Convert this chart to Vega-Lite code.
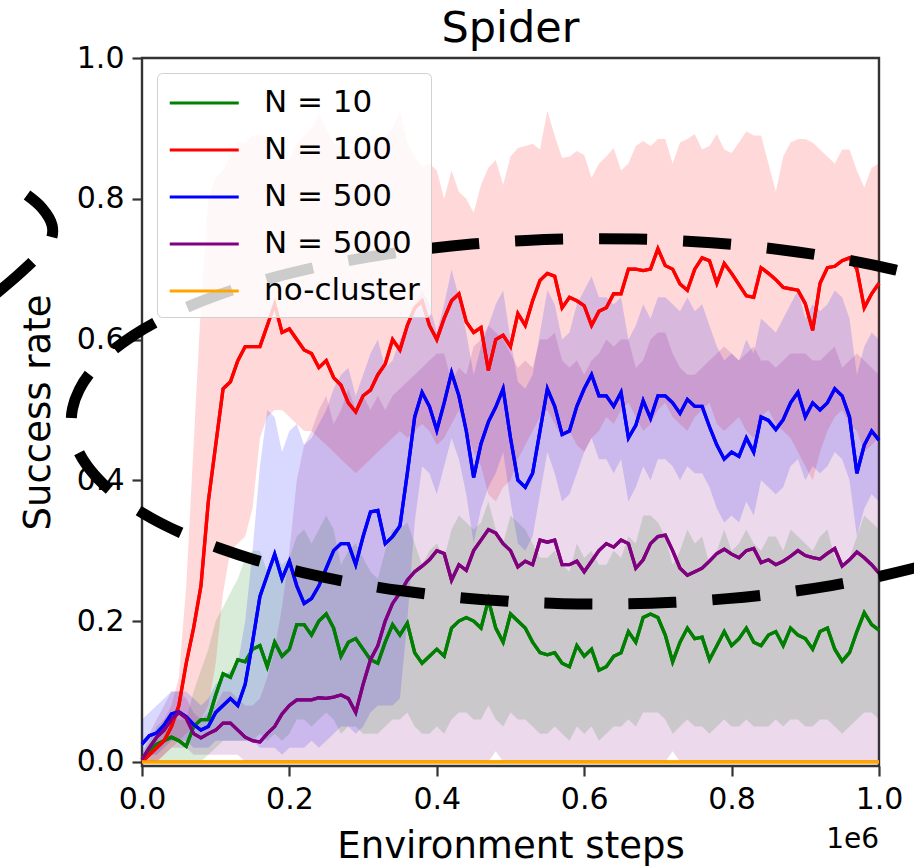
{
"$schema": "https://vega.github.io/schema/vega-lite/v6.json",
"width": 737, "height": 708,
"autosize": {"type": "none"},
"padding": {"left": 142, "top": 58, "right": 35, "bottom": 102},
"background": "white",
"title": {"text": "Spider", "fontSize": 43, "font": "DejaVu Sans", "fontWeight": "normal", "color": "black", "anchor": "middle", "frame": "group", "offset": -42, "baseline": "alphabetic"},
"datasets": {
"runs": [
{"x":0,"s":"g","m":0.005,"l":0,"h":0.01},{"x":0.01,"s":"g","m":0.015,"l":0,"h":0.03},{"x":0.02,"s":"g","m":0.025,"l":0,"h":0.05},{"x":0.03,"s":"g","m":0.03,"l":0,"h":0.06},{"x":0.04,"s":"g","m":0.035,"l":0,"h":0.07},{"x":0.05,"s":"g","m":0.03,"l":0,"h":0.06},{"x":0.06,"s":"g","m":0.022,"l":0,"h":0.06},{"x":0.07,"s":"g","m":0.05,"l":0,"h":0.1},{"x":0.08,"s":"g","m":0.06,"l":0,"h":0.13},{"x":0.09,"s":"g","m":0.06,"l":0.01,"h":0.16},
{"x":0.1,"s":"g","m":0.095,"l":0.02,"h":0.2},{"x":0.11,"s":"g","m":0.125,"l":0.03,"h":0.22},{"x":0.12,"s":"g","m":0.12,"l":0.03,"h":0.24},{"x":0.13,"s":"g","m":0.145,"l":0.03,"h":0.26},{"x":0.14,"s":"g","m":0.142,"l":0.03,"h":0.29},{"x":0.15,"s":"g","m":0.16,"l":0.03,"h":0.3},{"x":0.16,"s":"g","m":0.165,"l":0.04,"h":0.3},{"x":0.17,"s":"g","m":0.135,"l":0.03,"h":0.27},{"x":0.18,"s":"g","m":0.17,"l":0.04,"h":0.3},{"x":0.19,"s":"g","m":0.15,"l":0.03,"h":0.28},
{"x":0.2,"s":"g","m":0.16,"l":0.04,"h":0.29},{"x":0.21,"s":"g","m":0.195,"l":0.06,"h":0.32},{"x":0.22,"s":"g","m":0.195,"l":0.06,"h":0.33},{"x":0.23,"s":"g","m":0.18,"l":0.05,"h":0.31},{"x":0.24,"s":"g","m":0.2,"l":0.06,"h":0.33},{"x":0.25,"s":"g","m":0.21,"l":0.07,"h":0.35},{"x":0.26,"s":"g","m":0.19,"l":0.06,"h":0.33},{"x":0.27,"s":"g","m":0.15,"l":0.04,"h":0.28},{"x":0.28,"s":"g","m":0.17,"l":0.05,"h":0.3},{"x":0.29,"s":"g","m":0.175,"l":0.05,"h":0.31},
{"x":0.3,"s":"g","m":0.16,"l":0.04,"h":0.29},{"x":0.31,"s":"g","m":0.145,"l":0.04,"h":0.27},{"x":0.32,"s":"g","m":0.14,"l":0.04,"h":0.26},{"x":0.33,"s":"g","m":0.17,"l":0.05,"h":0.3},{"x":0.34,"s":"g","m":0.195,"l":0.06,"h":0.33},{"x":0.35,"s":"g","m":0.18,"l":0.06,"h":0.33},{"x":0.36,"s":"g","m":0.197,"l":0.07,"h":0.34},{"x":0.37,"s":"g","m":0.155,"l":0.05,"h":0.31},{"x":0.38,"s":"g","m":0.14,"l":0.04,"h":0.28},{"x":0.39,"s":"g","m":0.15,"l":0.04,"h":0.3},
{"x":0.4,"s":"g","m":0.16,"l":0.05,"h":0.31},{"x":0.41,"s":"g","m":0.15,"l":0.04,"h":0.29},{"x":0.42,"s":"g","m":0.19,"l":0.06,"h":0.33},{"x":0.43,"s":"g","m":0.2,"l":0.07,"h":0.35},{"x":0.44,"s":"g","m":0.205,"l":0.07,"h":0.34},{"x":0.45,"s":"g","m":0.2,"l":0.06,"h":0.33},{"x":0.46,"s":"g","m":0.19,"l":0.06,"h":0.34},{"x":0.47,"s":"g","m":0.23,"l":0.08,"h":0.37},{"x":0.48,"s":"g","m":0.19,"l":0.06,"h":0.33},{"x":0.49,"s":"g","m":0.17,"l":0.05,"h":0.31},
{"x":0.5,"s":"g","m":0.21,"l":0.07,"h":0.35},{"x":0.51,"s":"g","m":0.2,"l":0.06,"h":0.34},{"x":0.52,"s":"g","m":0.19,"l":0.06,"h":0.33},{"x":0.53,"s":"g","m":0.17,"l":0.05,"h":0.31},{"x":0.54,"s":"g","m":0.155,"l":0.04,"h":0.29},{"x":0.55,"s":"g","m":0.152,"l":0.04,"h":0.29},{"x":0.56,"s":"g","m":0.155,"l":0.05,"h":0.3},{"x":0.57,"s":"g","m":0.14,"l":0.04,"h":0.28},{"x":0.58,"s":"g","m":0.135,"l":0.03,"h":0.27},{"x":0.59,"s":"g","m":0.165,"l":0.05,"h":0.31},
{"x":0.6,"s":"g","m":0.15,"l":0.04,"h":0.29},{"x":0.61,"s":"g","m":0.16,"l":0.05,"h":0.3},{"x":0.62,"s":"g","m":0.13,"l":0.03,"h":0.28},{"x":0.63,"s":"g","m":0.135,"l":0.04,"h":0.28},{"x":0.64,"s":"g","m":0.15,"l":0.05,"h":0.3},{"x":0.65,"s":"g","m":0.155,"l":0.05,"h":0.29},{"x":0.66,"s":"g","m":0.185,"l":0.06,"h":0.32},{"x":0.67,"s":"g","m":0.17,"l":0.05,"h":0.31},{"x":0.68,"s":"g","m":0.205,"l":0.07,"h":0.35},{"x":0.69,"s":"g","m":0.21,"l":0.07,"h":0.35},
{"x":0.7,"s":"g","m":0.205,"l":0.07,"h":0.34},{"x":0.71,"s":"g","m":0.18,"l":0.06,"h":0.32},{"x":0.72,"s":"g","m":0.142,"l":0.04,"h":0.28},{"x":0.73,"s":"g","m":0.17,"l":0.05,"h":0.3},{"x":0.74,"s":"g","m":0.19,"l":0.06,"h":0.33},{"x":0.75,"s":"g","m":0.175,"l":0.05,"h":0.31},{"x":0.76,"s":"g","m":0.177,"l":0.05,"h":0.32},{"x":0.77,"s":"g","m":0.145,"l":0.04,"h":0.28},{"x":0.78,"s":"g","m":0.165,"l":0.05,"h":0.3},{"x":0.79,"s":"g","m":0.185,"l":0.06,"h":0.33},
{"x":0.8,"s":"g","m":0.165,"l":0.05,"h":0.3},{"x":0.81,"s":"g","m":0.175,"l":0.05,"h":0.31},{"x":0.82,"s":"g","m":0.19,"l":0.06,"h":0.33},{"x":0.83,"s":"g","m":0.17,"l":0.05,"h":0.31},{"x":0.84,"s":"g","m":0.165,"l":0.05,"h":0.3},{"x":0.85,"s":"g","m":0.18,"l":0.05,"h":0.32},{"x":0.86,"s":"g","m":0.185,"l":0.06,"h":0.32},{"x":0.87,"s":"g","m":0.165,"l":0.05,"h":0.3},{"x":0.88,"s":"g","m":0.19,"l":0.06,"h":0.33},{"x":0.89,"s":"g","m":0.18,"l":0.06,"h":0.32},
{"x":0.9,"s":"g","m":0.175,"l":0.05,"h":0.31},{"x":0.91,"s":"g","m":0.16,"l":0.05,"h":0.3},{"x":0.92,"s":"g","m":0.185,"l":0.06,"h":0.32},{"x":0.93,"s":"g","m":0.19,"l":0.06,"h":0.33},{"x":0.94,"s":"g","m":0.16,"l":0.05,"h":0.29},{"x":0.95,"s":"g","m":0.143,"l":0.04,"h":0.28},{"x":0.96,"s":"g","m":0.155,"l":0.05,"h":0.29},{"x":0.97,"s":"g","m":0.185,"l":0.06,"h":0.32},{"x":0.98,"s":"g","m":0.212,"l":0.07,"h":0.35},{"x":0.99,"s":"g","m":0.195,"l":0.07,"h":0.34},{"x":1,"s":"g","m":0.187,"l":0.06,"h":0.33},

{"x":0,"s":"r","m":0,"l":0,"h":0},{"x":0.01,"s":"r","m":0.01,"l":0,"h":0.02},{"x":0.02,"s":"r","m":0.02,"l":0,"h":0.04},{"x":0.03,"s":"r","m":0.03,"l":0.01,"h":0.06},{"x":0.04,"s":"r","m":0.05,"l":0.02,"h":0.08},{"x":0.05,"s":"r","m":0.08,"l":0.03,"h":0.12},{"x":0.06,"s":"r","m":0.14,"l":0.04,"h":0.25},{"x":0.07,"s":"r","m":0.19,"l":0.05,"h":0.45},{"x":0.08,"s":"r","m":0.25,"l":0.06,"h":0.65},{"x":0.09,"s":"r","m":0.37,"l":0.08,"h":0.8},
{"x":0.1,"s":"r","m":0.45,"l":0.14,"h":0.83},{"x":0.11,"s":"r","m":0.53,"l":0.24,"h":0.84},{"x":0.12,"s":"r","m":0.54,"l":0.3,"h":0.86},{"x":0.13,"s":"r","m":0.57,"l":0.31,"h":0.88},{"x":0.14,"s":"r","m":0.59,"l":0.32,"h":0.88},{"x":0.15,"s":"r","m":0.59,"l":0.36,"h":0.89},{"x":0.16,"s":"r","m":0.59,"l":0.46,"h":0.89},{"x":0.17,"s":"r","m":0.62,"l":0.49,"h":0.89},{"x":0.18,"s":"r","m":0.65,"l":0.5,"h":0.86},{"x":0.19,"s":"r","m":0.61,"l":0.5,"h":0.855},
{"x":0.2,"s":"r","m":0.615,"l":0.49,"h":0.855},{"x":0.21,"s":"r","m":0.6,"l":0.48,"h":0.88},{"x":0.22,"s":"r","m":0.585,"l":0.47,"h":0.89},{"x":0.23,"s":"r","m":0.58,"l":0.47,"h":0.9},{"x":0.24,"s":"r","m":0.56,"l":0.46,"h":0.92},{"x":0.25,"s":"r","m":0.57,"l":0.45,"h":0.9},{"x":0.26,"s":"r","m":0.546,"l":0.44,"h":0.88},{"x":0.27,"s":"r","m":0.535,"l":0.43,"h":0.875},{"x":0.28,"s":"r","m":0.51,"l":0.42,"h":0.868},{"x":0.29,"s":"r","m":0.497,"l":0.41,"h":0.87},
{"x":0.3,"s":"r","m":0.52,"l":0.42,"h":0.865},{"x":0.31,"s":"r","m":0.528,"l":0.43,"h":0.87},{"x":0.32,"s":"r","m":0.55,"l":0.44,"h":0.885},{"x":0.33,"s":"r","m":0.565,"l":0.45,"h":0.89},{"x":0.34,"s":"r","m":0.6,"l":0.46,"h":0.9},{"x":0.35,"s":"r","m":0.585,"l":0.47,"h":0.925},{"x":0.36,"s":"r","m":0.62,"l":0.46,"h":0.88},{"x":0.37,"s":"r","m":0.645,"l":0.47,"h":0.86},{"x":0.38,"s":"r","m":0.655,"l":0.48,"h":0.845},{"x":0.39,"s":"r","m":0.62,"l":0.47,"h":0.85},
{"x":0.4,"s":"r","m":0.6,"l":0.45,"h":0.84},{"x":0.41,"s":"r","m":0.63,"l":0.46,"h":0.8},{"x":0.42,"s":"r","m":0.655,"l":0.48,"h":0.84},{"x":0.43,"s":"r","m":0.665,"l":0.5,"h":0.81},{"x":0.44,"s":"r","m":0.625,"l":0.47,"h":0.8},{"x":0.45,"s":"r","m":0.61,"l":0.44,"h":0.78},{"x":0.46,"s":"r","m":0.617,"l":0.42,"h":0.82},{"x":0.47,"s":"r","m":0.556,"l":0.38,"h":0.844},{"x":0.48,"s":"r","m":0.6,"l":0.37,"h":0.855},{"x":0.49,"s":"r","m":0.606,"l":0.39,"h":0.82},
{"x":0.5,"s":"r","m":0.59,"l":0.4,"h":0.86},{"x":0.51,"s":"r","m":0.637,"l":0.43,"h":0.872},{"x":0.52,"s":"r","m":0.62,"l":0.45,"h":0.875},{"x":0.53,"s":"r","m":0.655,"l":0.47,"h":0.878},{"x":0.54,"s":"r","m":0.684,"l":0.49,"h":0.87},{"x":0.55,"s":"r","m":0.694,"l":0.5,"h":0.925},{"x":0.56,"s":"r","m":0.69,"l":0.48,"h":0.89},{"x":0.57,"s":"r","m":0.645,"l":0.46,"h":0.858},{"x":0.58,"s":"r","m":0.66,"l":0.47,"h":0.86},{"x":0.59,"s":"r","m":0.655,"l":0.45,"h":0.868},
{"x":0.6,"s":"r","m":0.648,"l":0.44,"h":0.862},{"x":0.61,"s":"r","m":0.62,"l":0.46,"h":0.83},{"x":0.62,"s":"r","m":0.64,"l":0.47,"h":0.85},{"x":0.63,"s":"r","m":0.645,"l":0.49,"h":0.86},{"x":0.64,"s":"r","m":0.665,"l":0.48,"h":0.872},{"x":0.65,"s":"r","m":0.665,"l":0.5,"h":0.84},{"x":0.66,"s":"r","m":0.7,"l":0.51,"h":0.85},{"x":0.67,"s":"r","m":0.7,"l":0.49,"h":0.875},{"x":0.68,"s":"r","m":0.698,"l":0.47,"h":0.882},{"x":0.69,"s":"r","m":0.7,"l":0.48,"h":0.875},
{"x":0.7,"s":"r","m":0.729,"l":0.5,"h":0.885},{"x":0.71,"s":"r","m":0.705,"l":0.51,"h":0.885},{"x":0.72,"s":"r","m":0.7,"l":0.49,"h":0.85},{"x":0.73,"s":"r","m":0.679,"l":0.48,"h":0.88},{"x":0.74,"s":"r","m":0.67,"l":0.47,"h":0.885},{"x":0.75,"s":"r","m":0.7,"l":0.49,"h":0.892},{"x":0.76,"s":"r","m":0.716,"l":0.5,"h":0.87},{"x":0.77,"s":"r","m":0.712,"l":0.51,"h":0.875},{"x":0.78,"s":"r","m":0.68,"l":0.48,"h":0.892},{"x":0.79,"s":"r","m":0.708,"l":0.47,"h":0.87},
{"x":0.8,"s":"r","m":0.694,"l":0.48,"h":0.865},{"x":0.81,"s":"r","m":0.678,"l":0.49,"h":0.88},{"x":0.82,"s":"r","m":0.662,"l":0.47,"h":0.896},{"x":0.83,"s":"r","m":0.66,"l":0.46,"h":0.89},{"x":0.84,"s":"r","m":0.702,"l":0.49,"h":0.89},{"x":0.85,"s":"r","m":0.694,"l":0.5,"h":0.85},{"x":0.86,"s":"r","m":0.685,"l":0.48,"h":0.81},{"x":0.87,"s":"r","m":0.674,"l":0.47,"h":0.86},{"x":0.88,"s":"r","m":0.672,"l":0.46,"h":0.88},{"x":0.89,"s":"r","m":0.67,"l":0.44,"h":0.885},
{"x":0.9,"s":"r","m":0.651,"l":0.42,"h":0.885},{"x":0.91,"s":"r","m":0.613,"l":0.4,"h":0.88},{"x":0.92,"s":"r","m":0.68,"l":0.44,"h":0.87},{"x":0.93,"s":"r","m":0.702,"l":0.47,"h":0.86},{"x":0.94,"s":"r","m":0.704,"l":0.49,"h":0.85},{"x":0.95,"s":"r","m":0.712,"l":0.5,"h":0.87},{"x":0.96,"s":"r","m":0.716,"l":0.48,"h":0.87},{"x":0.97,"s":"r","m":0.7,"l":0.47,"h":0.84},{"x":0.98,"s":"r","m":0.645,"l":0.44,"h":0.816},{"x":0.99,"s":"r","m":0.665,"l":0.45,"h":0.844},{"x":1,"s":"r","m":0.68,"l":0.46,"h":0.85},

{"x":0,"s":"b","m":0.025,"l":0,"h":0.06},{"x":0.01,"s":"b","m":0.037,"l":0.01,"h":0.07},{"x":0.02,"s":"b","m":0.041,"l":0.01,"h":0.08},{"x":0.03,"s":"b","m":0.052,"l":0.02,"h":0.09},{"x":0.04,"s":"b","m":0.068,"l":0.03,"h":0.1},{"x":0.05,"s":"b","m":0.071,"l":0.03,"h":0.1},{"x":0.06,"s":"b","m":0.064,"l":0.03,"h":0.1},{"x":0.07,"s":"b","m":0.053,"l":0.02,"h":0.09},{"x":0.08,"s":"b","m":0.045,"l":0.02,"h":0.08},{"x":0.09,"s":"b","m":0.05,"l":0.02,"h":0.09},
{"x":0.1,"s":"b","m":0.07,"l":0.03,"h":0.11},{"x":0.11,"s":"b","m":0.08,"l":0.03,"h":0.12},{"x":0.12,"s":"b","m":0.09,"l":0.03,"h":0.13},{"x":0.13,"s":"b","m":0.08,"l":0.03,"h":0.14},{"x":0.14,"s":"b","m":0.11,"l":0.03,"h":0.2},{"x":0.15,"s":"b","m":0.17,"l":0.03,"h":0.3},{"x":0.16,"s":"b","m":0.235,"l":0.02,"h":0.42},{"x":0.17,"s":"b","m":0.265,"l":0.02,"h":0.5},{"x":0.18,"s":"b","m":0.295,"l":0.02,"h":0.49},{"x":0.19,"s":"b","m":0.26,"l":0.01,"h":0.44},
{"x":0.2,"s":"b","m":0.285,"l":0.02,"h":0.47},{"x":0.21,"s":"b","m":0.25,"l":0.02,"h":0.48},{"x":0.22,"s":"b","m":0.225,"l":0.02,"h":0.45},{"x":0.23,"s":"b","m":0.232,"l":0.03,"h":0.46},{"x":0.24,"s":"b","m":0.25,"l":0.02,"h":0.48},{"x":0.25,"s":"b","m":0.275,"l":0.03,"h":0.5},{"x":0.26,"s":"b","m":0.3,"l":0.04,"h":0.53},{"x":0.27,"s":"b","m":0.31,"l":0.05,"h":0.55},{"x":0.28,"s":"b","m":0.31,"l":0.05,"h":0.56},{"x":0.29,"s":"b","m":0.28,"l":0.04,"h":0.52},
{"x":0.3,"s":"b","m":0.32,"l":0.05,"h":0.55},{"x":0.31,"s":"b","m":0.355,"l":0.07,"h":0.58},{"x":0.32,"s":"b","m":0.357,"l":0.08,"h":0.6},{"x":0.33,"s":"b","m":0.31,"l":0.08,"h":0.56},{"x":0.34,"s":"b","m":0.32,"l":0.08,"h":0.57},{"x":0.35,"s":"b","m":0.335,"l":0.09,"h":0.6},{"x":0.36,"s":"b","m":0.41,"l":0.2,"h":0.62},{"x":0.37,"s":"b","m":0.49,"l":0.34,"h":0.65},{"x":0.38,"s":"b","m":0.525,"l":0.42,"h":0.67},{"x":0.39,"s":"b","m":0.505,"l":0.41,"h":0.65},
{"x":0.4,"s":"b","m":0.471,"l":0.38,"h":0.61},{"x":0.41,"s":"b","m":0.51,"l":0.42,"h":0.65},{"x":0.42,"s":"b","m":0.553,"l":0.46,"h":0.7},{"x":0.43,"s":"b","m":0.52,"l":0.43,"h":0.66},{"x":0.44,"s":"b","m":0.47,"l":0.38,"h":0.61},{"x":0.45,"s":"b","m":0.404,"l":0.31,"h":0.55},{"x":0.46,"s":"b","m":0.452,"l":0.36,"h":0.59},{"x":0.47,"s":"b","m":0.483,"l":0.39,"h":0.62},{"x":0.48,"s":"b","m":0.504,"l":0.41,"h":0.65},{"x":0.49,"s":"b","m":0.53,"l":0.44,"h":0.67},
{"x":0.5,"s":"b","m":0.46,"l":0.37,"h":0.6},{"x":0.51,"s":"b","m":0.4,"l":0.31,"h":0.54},{"x":0.52,"s":"b","m":0.39,"l":0.3,"h":0.53},{"x":0.53,"s":"b","m":0.41,"l":0.32,"h":0.55},{"x":0.54,"s":"b","m":0.47,"l":0.38,"h":0.61},{"x":0.55,"s":"b","m":0.53,"l":0.44,"h":0.67},{"x":0.56,"s":"b","m":0.505,"l":0.41,"h":0.65},{"x":0.57,"s":"b","m":0.465,"l":0.37,"h":0.6},{"x":0.58,"s":"b","m":0.47,"l":0.38,"h":0.61},{"x":0.59,"s":"b","m":0.505,"l":0.41,"h":0.65},
{"x":0.6,"s":"b","m":0.53,"l":0.44,"h":0.67},{"x":0.61,"s":"b","m":0.55,"l":0.46,"h":0.69},{"x":0.62,"s":"b","m":0.52,"l":0.43,"h":0.66},{"x":0.63,"s":"b","m":0.52,"l":0.43,"h":0.66},{"x":0.64,"s":"b","m":0.505,"l":0.41,"h":0.65},{"x":0.65,"s":"b","m":0.525,"l":0.43,"h":0.66},{"x":0.66,"s":"b","m":0.46,"l":0.37,"h":0.6},{"x":0.67,"s":"b","m":0.478,"l":0.39,"h":0.62},{"x":0.68,"s":"b","m":0.513,"l":0.42,"h":0.65},{"x":0.69,"s":"b","m":0.488,"l":0.4,"h":0.63},
{"x":0.7,"s":"b","m":0.52,"l":0.43,"h":0.66},{"x":0.71,"s":"b","m":0.52,"l":0.43,"h":0.66},{"x":0.72,"s":"b","m":0.51,"l":0.42,"h":0.65},{"x":0.73,"s":"b","m":0.495,"l":0.4,"h":0.64},{"x":0.74,"s":"b","m":0.515,"l":0.42,"h":0.66},{"x":0.75,"s":"b","m":0.505,"l":0.41,"h":0.64},{"x":0.76,"s":"b","m":0.505,"l":0.41,"h":0.65},{"x":0.77,"s":"b","m":0.476,"l":0.39,"h":0.62},{"x":0.78,"s":"b","m":0.45,"l":0.36,"h":0.59},{"x":0.79,"s":"b","m":0.43,"l":0.34,"h":0.57},
{"x":0.8,"s":"b","m":0.44,"l":0.35,"h":0.58},{"x":0.81,"s":"b","m":0.434,"l":0.34,"h":0.57},{"x":0.82,"s":"b","m":0.46,"l":0.37,"h":0.6},{"x":0.83,"s":"b","m":0.44,"l":0.35,"h":0.58},{"x":0.84,"s":"b","m":0.49,"l":0.4,"h":0.63},{"x":0.85,"s":"b","m":0.485,"l":0.39,"h":0.62},{"x":0.86,"s":"b","m":0.472,"l":0.38,"h":0.61},{"x":0.87,"s":"b","m":0.486,"l":0.39,"h":0.63},{"x":0.88,"s":"b","m":0.51,"l":0.42,"h":0.65},{"x":0.89,"s":"b","m":0.525,"l":0.43,"h":0.67},
{"x":0.9,"s":"b","m":0.49,"l":0.4,"h":0.63},{"x":0.91,"s":"b","m":0.51,"l":0.42,"h":0.65},{"x":0.92,"s":"b","m":0.5,"l":0.41,"h":0.64},{"x":0.93,"s":"b","m":0.51,"l":0.42,"h":0.65},{"x":0.94,"s":"b","m":0.53,"l":0.44,"h":0.67},{"x":0.95,"s":"b","m":0.52,"l":0.43,"h":0.66},{"x":0.96,"s":"b","m":0.49,"l":0.4,"h":0.63},{"x":0.97,"s":"b","m":0.41,"l":0.32,"h":0.55},{"x":0.98,"s":"b","m":0.45,"l":0.36,"h":0.59},{"x":0.99,"s":"b","m":0.47,"l":0.38,"h":0.61},{"x":1,"s":"b","m":0.457,"l":0.37,"h":0.6},

{"x":0,"s":"p","m":0.003,"l":0,"h":0.01},{"x":0.01,"s":"p","m":0.02,"l":0,"h":0.04},{"x":0.02,"s":"p","m":0.035,"l":0,"h":0.06},{"x":0.03,"s":"p","m":0.045,"l":0.01,"h":0.08},{"x":0.04,"s":"p","m":0.06,"l":0.02,"h":0.1},{"x":0.05,"s":"p","m":0.07,"l":0.02,"h":0.1},{"x":0.06,"s":"p","m":0.062,"l":0.02,"h":0.09},{"x":0.07,"s":"p","m":0.04,"l":0.01,"h":0.07},{"x":0.08,"s":"p","m":0.034,"l":0.01,"h":0.06},{"x":0.09,"s":"p","m":0.04,"l":0.01,"h":0.07},
{"x":0.1,"s":"p","m":0.045,"l":0.01,"h":0.08},{"x":0.11,"s":"p","m":0.055,"l":0.01,"h":0.1},{"x":0.12,"s":"p","m":0.055,"l":0.01,"h":0.1},{"x":0.13,"s":"p","m":0.045,"l":0.01,"h":0.09},{"x":0.14,"s":"p","m":0.035,"l":0,"h":0.08},{"x":0.15,"s":"p","m":0.03,"l":0,"h":0.08},{"x":0.16,"s":"p","m":0.028,"l":0,"h":0.09},{"x":0.17,"s":"p","m":0.04,"l":0,"h":0.12},{"x":0.18,"s":"p","m":0.05,"l":0,"h":0.16},{"x":0.19,"s":"p","m":0.068,"l":0,"h":0.22},
{"x":0.2,"s":"p","m":0.08,"l":0,"h":0.3},{"x":0.21,"s":"p","m":0.088,"l":0,"h":0.4},{"x":0.22,"s":"p","m":0.088,"l":0,"h":0.45},{"x":0.23,"s":"p","m":0.088,"l":0,"h":0.47},{"x":0.24,"s":"p","m":0.091,"l":0,"h":0.5},{"x":0.25,"s":"p","m":0.09,"l":0,"h":0.52},{"x":0.26,"s":"p","m":0.092,"l":0,"h":0.48},{"x":0.27,"s":"p","m":0.095,"l":0,"h":0.5},{"x":0.28,"s":"p","m":0.09,"l":0,"h":0.53},{"x":0.29,"s":"p","m":0.07,"l":0,"h":0.5},
{"x":0.3,"s":"p","m":0.11,"l":0,"h":0.52},{"x":0.31,"s":"p","m":0.145,"l":0,"h":0.5},{"x":0.32,"s":"p","m":0.165,"l":0,"h":0.52},{"x":0.33,"s":"p","m":0.2,"l":0,"h":0.5},{"x":0.34,"s":"p","m":0.225,"l":0,"h":0.52},{"x":0.35,"s":"p","m":0.24,"l":0,"h":0.53},{"x":0.36,"s":"p","m":0.258,"l":0,"h":0.54},{"x":0.37,"s":"p","m":0.27,"l":0,"h":0.55},{"x":0.38,"s":"p","m":0.278,"l":0,"h":0.56},{"x":0.39,"s":"p","m":0.287,"l":0,"h":0.57},
{"x":0.4,"s":"p","m":0.3,"l":0,"h":0.58},{"x":0.41,"s":"p","m":0.296,"l":0,"h":0.58},{"x":0.42,"s":"p","m":0.258,"l":0,"h":0.54},{"x":0.43,"s":"p","m":0.28,"l":0,"h":0.56},{"x":0.44,"s":"p","m":0.272,"l":0,"h":0.55},{"x":0.45,"s":"p","m":0.3,"l":0,"h":0.59},{"x":0.46,"s":"p","m":0.315,"l":0,"h":0.6},{"x":0.47,"s":"p","m":0.33,"l":0,"h":0.62},{"x":0.48,"s":"p","m":0.325,"l":0.015,"h":0.61},{"x":0.49,"s":"p","m":0.31,"l":0,"h":0.6},
{"x":0.5,"s":"p","m":0.3,"l":0,"h":0.58},{"x":0.51,"s":"p","m":0.277,"l":0,"h":0.56},{"x":0.52,"s":"p","m":0.285,"l":0,"h":0.57},{"x":0.53,"s":"p","m":0.28,"l":0,"h":0.56},{"x":0.54,"s":"p","m":0.315,"l":0,"h":0.6},{"x":0.55,"s":"p","m":0.312,"l":0,"h":0.6},{"x":0.56,"s":"p","m":0.315,"l":0,"h":0.61},{"x":0.57,"s":"p","m":0.28,"l":0,"h":0.57},{"x":0.58,"s":"p","m":0.28,"l":0,"h":0.56},{"x":0.59,"s":"p","m":0.285,"l":0,"h":0.57},
{"x":0.6,"s":"p","m":0.27,"l":0,"h":0.55},{"x":0.61,"s":"p","m":0.285,"l":0,"h":0.57},{"x":0.62,"s":"p","m":0.3,"l":0,"h":0.58},{"x":0.63,"s":"p","m":0.31,"l":0,"h":0.6},{"x":0.64,"s":"p","m":0.305,"l":0,"h":0.59},{"x":0.65,"s":"p","m":0.315,"l":0,"h":0.6},{"x":0.66,"s":"p","m":0.31,"l":0,"h":0.6},{"x":0.67,"s":"p","m":0.275,"l":0,"h":0.56},{"x":0.68,"s":"p","m":0.287,"l":0,"h":0.57},{"x":0.69,"s":"p","m":0.31,"l":0,"h":0.6},
{"x":0.7,"s":"p","m":0.32,"l":0,"h":0.61},{"x":0.71,"s":"p","m":0.322,"l":0,"h":0.61},{"x":0.72,"s":"p","m":0.3,"l":0.015,"h":0.58},{"x":0.73,"s":"p","m":0.275,"l":0,"h":0.56},{"x":0.74,"s":"p","m":0.265,"l":0,"h":0.55},{"x":0.75,"s":"p","m":0.27,"l":0,"h":0.55},{"x":0.76,"s":"p","m":0.275,"l":0,"h":0.56},{"x":0.77,"s":"p","m":0.285,"l":0,"h":0.57},{"x":0.78,"s":"p","m":0.296,"l":0,"h":0.58},{"x":0.79,"s":"p","m":0.302,"l":0,"h":0.59},
{"x":0.8,"s":"p","m":0.295,"l":0,"h":0.58},{"x":0.81,"s":"p","m":0.29,"l":0,"h":0.57},{"x":0.82,"s":"p","m":0.3,"l":0,"h":0.58},{"x":0.83,"s":"p","m":0.303,"l":0,"h":0.59},{"x":0.84,"s":"p","m":0.283,"l":0,"h":0.57},{"x":0.85,"s":"p","m":0.287,"l":0,"h":0.57},{"x":0.86,"s":"p","m":0.28,"l":0,"h":0.56},{"x":0.87,"s":"p","m":0.285,"l":0,"h":0.57},{"x":0.88,"s":"p","m":0.292,"l":0,"h":0.58},{"x":0.89,"s":"p","m":0.3,"l":0,"h":0.58},
{"x":0.9,"s":"p","m":0.293,"l":0,"h":0.58},{"x":0.91,"s":"p","m":0.29,"l":0,"h":0.57},{"x":0.92,"s":"p","m":0.288,"l":0,"h":0.57},{"x":0.93,"s":"p","m":0.296,"l":0,"h":0.58},{"x":0.94,"s":"p","m":0.303,"l":0,"h":0.59},{"x":0.95,"s":"p","m":0.278,"l":0,"h":0.56},{"x":0.96,"s":"p","m":0.287,"l":0,"h":0.57},{"x":0.97,"s":"p","m":0.298,"l":0,"h":0.58},{"x":0.98,"s":"p","m":0.29,"l":0,"h":0.57},{"x":0.99,"s":"p","m":0.28,"l":0,"h":0.56},{"x":1,"s":"p","m":0.268,"l":0,"h":0.55},

{"x":0,"s":"o","m":0,"l":0,"h":0},{"x":1,"s":"o","m":0,"l":0,"h":0}
],
"ring": [
{"i":0,"x":1.0819,"y":0.6826},{"i":1,"x":1.0219,"y":0.6989},{"i":2,"x":0.9576,"y":0.7129},{"i":3,"x":0.8896,"y":0.7244},{"i":4,"x":0.8186,"y":0.7333},{"i":5,"x":0.7455,"y":0.7394},{"i":6,"x":0.671,"y":0.7427},{"i":7,"x":0.596,"y":0.7431},{"i":8,"x":0.5212,"y":0.7408},{"i":9,"x":0.4476,"y":0.7356},{"i":10,"x":0.3758,"y":0.7276},{"i":11,"x":0.3067,"y":0.717},{"i":12,"x":0.2411,"y":0.7038},{"i":13,"x":0.1795,"y":0.6883},{"i":14,"x":0.1229,"y":0.6704},{"i":15,"x":0.0718,"y":0.6506},{"i":16,"x":0.0266,"y":0.6289},{"i":17,"x":-0.012,"y":0.6056},{"i":18,"x":-0.0438,"y":0.5809},{"i":19,"x":-0.0683,"y":0.5552},{"i":20,"x":-0.0851,"y":0.5288},{"i":21,"x":-0.0943,"y":0.5018},{"i":22,"x":-0.0956,"y":0.4746},{"i":23,"x":-0.089,"y":0.4476},{"i":24,"x":-0.0747,"y":0.4209},{"i":25,"x":-0.0528,"y":0.3949},{"i":26,"x":-0.0234,"y":0.3699},{"i":27,"x":0.013,"y":0.3461},{"i":28,"x":0.056,"y":0.3239},{"i":29,"x":0.1053,"y":0.3034},{"i":30,"x":0.1601,"y":0.2848},{"i":31,"x":0.2201,"y":0.2685},{"i":32,"x":0.2844,"y":0.2545},{"i":33,"x":0.3524,"y":0.243},{"i":34,"x":0.4234,"y":0.2341},{"i":35,"x":0.4965,"y":0.228},{"i":36,"x":0.571,"y":0.2247},{"i":37,"x":0.646,"y":0.2243},{"i":38,"x":0.7208,"y":0.2266},{"i":39,"x":0.7944,"y":0.2318},{"i":40,"x":0.8662,"y":0.2398},{"i":41,"x":0.9353,"y":0.2504},{"i":42,"x":1.0009,"y":0.2636},{"i":43,"x":1.0625,"y":0.2791},{"i":44,"x":1.0819,"y":0.2848}
],
"ring2": [
{"i":0,"x":-0.156,"y":0.8053},{"i":1,"x":-0.1357,"y":0.7869},{"i":2,"x":-0.1221,"y":0.7627},{"i":3,"x":-0.1235,"y":0.7414},{"i":4,"x":-0.1411,"y":0.7187},{"i":5,"x":-0.1682,"y":0.6917},{"i":6,"x":-0.2035,"y":0.6604}
]
},
"layer": [
{
"data": {"name": "runs"},
"mark": {"type": "line", "strokeWidth": 3.3},
"encoding": {
"x": {"field": "x", "type": "quantitative", "scale": {"domain": [0, 1], "nice": false}, "title": "Environment steps", "axis": {"values": [0, 0.2, 0.4, 0.6, 0.8, 1.0], "format": ".1f"}},
"y": {"field": "m", "type": "quantitative", "scale": {"domain": [-0.006, 1], "nice": false, "zero": false}, "title": "Success rate", "axis": {"values": [0, 0.2, 0.4, 0.6, 0.8, 1.0], "format": ".1f"}},
"color": {"field": "s", "type": "nominal", "scale": {"domain": ["g", "r", "b", "p", "o"], "range": ["#008000", "#ff0000", "#0000ff", "#800080", "#ffa500"]},
"legend": {"orient": "top-left", "offset": 15, "title": null,
"labelExpr": "datum.label == 'g' ? 'N = 10' : datum.label == 'r' ? 'N = 100' : datum.label == 'b' ? 'N = 500' : datum.label == 'p' ? 'N = 5000' : 'no-cluster'"}}
}
},
{
"data": {"name": "runs"},
"mark": {"type": "area", "opacity": 0.15},
"encoding": {
"x": {"field": "x", "type": "quantitative", "title": "Environment steps"},
"y": {"field": "l", "type": "quantitative", "title": "Success rate"},
"y2": {"field": "h"},
"fill": {"field": "s", "type": "nominal", "scale": {"domain": ["g", "r", "b", "p", "o"], "range": ["#008000", "#ff0000", "#0000ff", "#800080", "#ffa500"]}, "legend": null}
}
},
{
"data": {"name": "runs"},
"mark": {"type": "line", "strokeWidth": 3.3},
"encoding": {
"x": {"field": "x", "type": "quantitative", "title": "Environment steps"},
"y": {"field": "m", "type": "quantitative", "title": "Success rate"},
"stroke": {"field": "s", "type": "nominal", "scale": {"domain": ["g", "r", "b", "p", "o"], "range": ["#008000", "#ff0000", "#0000ff", "#800080", "#ffa500"]}, "legend": null}
}
},
{
"data": {"name": "ring"},
"mark": {"type": "line", "color": "black", "strokeWidth": 11, "strokeDash": [48, 36], "strokeDashOffset": 40, "interpolate": "catmull-rom", "clip": false},
"encoding": {
"x": {"field": "x", "type": "quantitative", "title": "Environment steps"},
"y": {"field": "y", "type": "quantitative", "title": "Success rate"},
"order": {"field": "i", "type": "quantitative"}
}
},
{
"data": {"name": "ring2"},
"mark": {"type": "line", "color": "black", "strokeWidth": 11, "strokeDash": [52, 32], "interpolate": "catmull-rom", "clip": false},
"encoding": {
"x": {"field": "x", "type": "quantitative", "title": "Environment steps"},
"y": {"field": "y", "type": "quantitative", "title": "Success rate"},
"order": {"field": "i", "type": "quantitative"}
}
},
{
"data": {"values": [{"t": "1e6"}]},
"mark": {"type": "text", "fontSize": 28, "align": "right", "baseline": "alphabetic", "color": "black", "clip": false},
"encoding": {
"x": {"datum": 1, "type": "quantitative"},
"y": {"datum": -0.122, "type": "quantitative"},
"text": {"field": "t"}
}
}
],
"config": {
"font": "DejaVu Sans",
"view": {"stroke": "#333333", "strokeWidth": 2.4},
"axis": {"grid": false, "domain": false, "ticks": true, "tickSize": 10, "tickWidth": 2.2, "tickColor": "#333333", "labelFontSize": 30, "labelColor": "black", "labelFont": "DejaVu Sans", "titleFont": "DejaVu Sans", "titleFontSize": 37, "titleFontWeight": "normal", "titleColor": "black", "labelPadding": 8, "labelFlush": false, "labelOverlap": false},
"axisX": {"titlePadding": 14},
"axisY": {"titlePadding": 19},
"legend": {"symbolType": "M-1,0H3", "symbolSize": 1190, "symbolStrokeWidth": 3, "labelFontSize": 31, "labelFont": "DejaVu Sans", "labelColor": "black", "labelOffset": 58, "rowPadding": 13, "padding": 11, "fillColor": "#ffffffcc", "strokeColor": "#d0d0d0", "cornerRadius": 5, "labelLimit": 400}
}
}
